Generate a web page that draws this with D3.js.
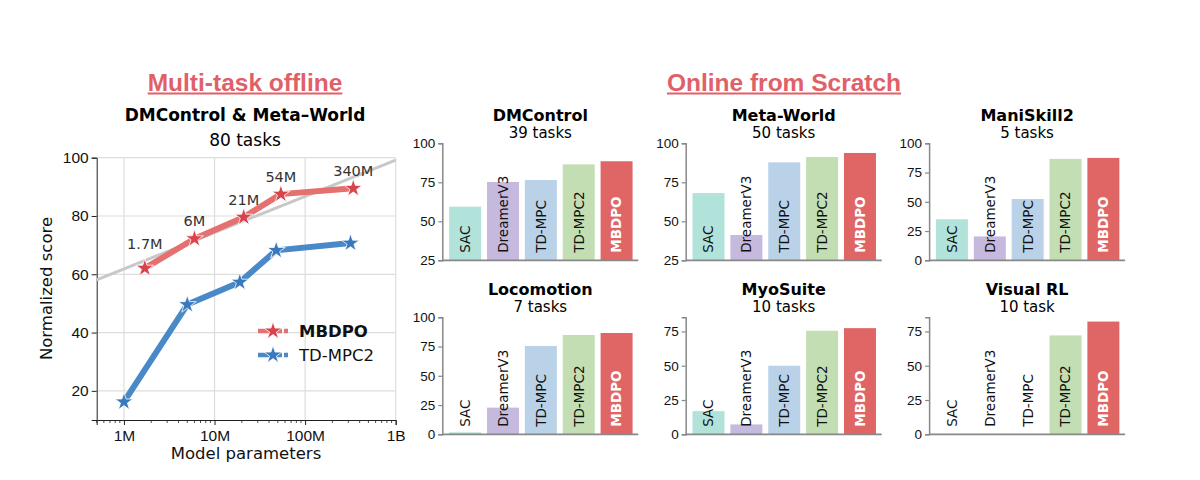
<!DOCTYPE html>
<html>
<head>
<meta charset="utf-8">
<script src="https://cdn.jsdelivr.net/npm/d3@7"></script>
<style>
  body { margin: 0; background: #fff; }
  svg { display: block; font-family: "DejaVu Sans", sans-serif; }
</style>
</head>
<body>
<div id="chart"></div>
<script>
// ---- data ----
var mbdpoParams = [1.7e6, 6e6, 21e6, 54e6, 340e6];
var mbdpoScore = [62.1, 72.2, 79.6, 87.5, 89.5];
var paramLabels = ['1.7M', '6M', '21M', '54M', '340M'];
var tdmpc2Params = [1e6, 5e6, 19e6, 48e6, 317e6];
var tdmpc2Score = [16.2, 49.6, 57.3, 68.2, 70.7];
var trendParams = [5e5, 1e9];
var trendScore = [58.1, 99.2];
var xTicks = [1e6, 1e7, 1e8, 1e9];
var xTickLabels = ['1M', '10M', '100M', '1B'];
var yTicks = [20, 40, 60, 80, 100];

var methods = ['SAC', 'DreamerV3', 'TD-MPC', 'TD-MPC2', 'MBDPO'];
var benchmarks = ['DMControl', 'Meta-World', 'ManiSkill2', 'Locomotion', 'MyoSuite', 'Visual RL'];
var taskCounts = ['39 tasks', '50 tasks', '5 tasks', '7 tasks', '10 tasks', '10 task'];
var dmcontrol = [59.4, 75.2, 76.5, 86.5, 88.5];
var metaworld = [68.1, 41.2, 87.8, 91.2, 93.8];
var maniskill2 = [35.1, 20.4, 52.4, 86.7, 87.5];
var locomotion = [1.7, 22.8, 75.5, 84.9, 86.6];
var myosuite = [16.9, 7.2, 50, 75.5, 77.4];
var visualrl = [0, 0, 0, 72.1, 82.2];
var barTicks = [[25, 50, 75, 100], [25, 50, 75, 100], [0, 25, 50, 75, 100],
                [0, 25, 50, 75, 100], [0, 25, 50, 75], [0, 25, 50, 75]];
var barDomains = [[25, 100], [25, 100], [0, 100], [0, 100], [0, 85.3], [0, 85.3]];

var allScores = [dmcontrol, metaworld, maniskill2, locomotion, myosuite, visualrl];
var barColors = ['#b2e3da', '#c6b9de', '#b9d2e8', '#c4deb3', '#e06666'];
var red = '#e06068';

var svg = d3.select('#chart').append('svg')
  .attr('width', 1200).attr('height', 480);

// ---- section headers ----
function header(cx, txt) {
  var t = svg.append('text')
    .attr('x', cx).attr('y', 91)
    .attr('text-anchor', 'middle')
    .style('font-family', '"Liberation Sans", Arial, sans-serif')
    .style('font-weight', 'bold')
    .style('font-size', '24.5px')
    .style('fill', red)
    .text(txt);
  var w = t.node().getComputedTextLength();
  svg.append('line')
    .attr('x1', cx - w / 2).attr('x2', cx + w / 2)
    .attr('y1', 93.5).attr('y2', 93.5)
    .attr('stroke', red).attr('stroke-width', 2);
}
header(245, 'Multi-task offline');
header(784, 'Online from Scratch');

// ---- left line chart ----
var x = d3.scaleLog().domain([5e5, 1e9]).range([96.7, 395.7]);
var y = d3.scaleLinear().domain([10, 100]).range([420, 157.7]);

var lc = svg.append('g');

lc.append('text').attr('x', 245).attr('y', 115).attr('dy', '0.35em')
  .attr('text-anchor', 'middle').style('font-weight', 'bold').style('font-size', '17px')
  .text('DMControl & Meta\u2013World');
lc.append('text').attr('x', 245).attr('y', 140).attr('dy', '0.35em')
  .attr('text-anchor', 'middle').style('font-size', '17px')
  .text('80 tasks');

// grid
lc.selectAll('.gx').data(xTicks).enter().append('line')
  .attr('x1', function(d) { return x(d); }).attr('x2', function(d) { return x(d); })
  .attr('y1', y(10)).attr('y2', y(100))
  .attr('stroke', '#dddddd').attr('stroke-width', 1.2);
lc.selectAll('.gy').data(yTicks).enter().append('line')
  .attr('x1', x(5e5)).attr('x2', x(1e9))
  .attr('y1', function(d) { return y(d); }).attr('y2', function(d) { return y(d); })
  .attr('stroke', '#dddddd').attr('stroke-width', 1.2);

// axes
var xAxis = d3.axisBottom(x).tickValues(xTicks)
  .tickFormat(function(d, i) { return xTickLabels[i]; }).tickSize(5);
var gx = lc.append('g').attr('transform', 'translate(0,420)').call(xAxis);
gx.selectAll('text').style('font-size', '15.5px').attr('dy', '0.85em').attr('fill', '#111');

var minor = [];
[1e5, 1e6, 1e7, 1e8].forEach(function(base) {
  for (var k = 2; k <= 9; k++) {
    var v = base * k;
    if (v >= 5e5 && v < 1e9) minor.push(v);
  }
});
lc.selectAll('.minor').data(minor).enter().append('line')
  .attr('x1', function(d) { return x(d); }).attr('x2', function(d) { return x(d); })
  .attr('y1', 420).attr('y2', 423).attr('stroke', '#222').attr('stroke-width', 0.8);

var yAxis = d3.axisLeft(y).tickValues(yTicks).tickSize(5);
var gy = lc.append('g').attr('transform', 'translate(96.7,0)').call(yAxis);
gy.selectAll('text').style('font-size', '15.5px').attr('fill', '#111');
[gx, gy].forEach(function(g) {
  g.select('.domain').attr('stroke', '#222');
  g.selectAll('.tick line').attr('stroke', '#222');
});

lc.append('text')
  .attr('transform', 'translate(46,288.5) rotate(-90)')
  .attr('text-anchor', 'middle').attr('dy', '0.35em')
  .style('font-size', '16.5px').attr('fill', '#111')
  .text('Normalized score');
lc.append('text')
  .attr('x', 246).attr('y', 453).attr('dy', '0.35em')
  .attr('text-anchor', 'middle').style('font-size', '16.5px').attr('fill', '#111')
  .text('Model parameters');

// trend line
var line = d3.line().x(function(d) { return x(d[0]); }).y(function(d) { return y(d[1]); });
lc.append('path').datum(d3.zip(trendParams, trendScore))
  .attr('d', line).attr('fill', 'none').attr('stroke', '#c8c8c8').attr('stroke-width', 3);

var star = d3.symbol().type(d3.symbolStar).size(100);

function series(params, scores, lineColor, markColor) {
  var pts = d3.zip(params, scores);
  lc.append('path').datum(pts).attr('d', line)
    .attr('fill', 'none').attr('stroke', lineColor).attr('stroke-width', 6)
    .attr('stroke-linejoin', 'round').attr('stroke-linecap', 'round');
  lc.selectAll(null).data(pts).enter().append('path')
    .attr('d', star)
    .attr('transform', function(d) { return 'translate(' + x(d[0]) + ',' + y(d[1]) + ')'; })
    .attr('fill', markColor).attr('stroke', '#fff').attr('stroke-width', 0.8);
}
series(tdmpc2Params, tdmpc2Score, '#4a89c8', '#3a78bd');
series(mbdpoParams, mbdpoScore, '#e57070', '#d9434b');

lc.selectAll('.plabel').data(paramLabels).enter().append('text')
  .attr('x', function(d, i) { return x(mbdpoParams[i]); })
  .attr('y', function(d, i) { return y(mbdpoScore[i]) - (i === 0 ? 24 : 17.5); })
  .attr('dy', '0.35em').attr('text-anchor', 'middle')
  .style('font-size', '14.5px').attr('fill', '#333')
  .text(function(d) { return d; });

// legend
var legend = [
  { name: 'MBDPO', line: '#e57070', mark: '#d9434b', bold: true },
  { name: 'TD-MPC2', line: '#4a89c8', mark: '#3a78bd', bold: false }
];
legend.forEach(function(l, i) {
  var ly = 331 + i * 24;
  lc.append('line').attr('x1', 258).attr('x2', 288).attr('y1', ly).attr('y2', ly)
    .attr('stroke', l.line).attr('stroke-width', 4.5).attr('stroke-dasharray', '11,2');
  lc.append('path').attr('d', star).attr('transform', 'translate(273,' + ly + ')')
    .attr('fill', l.mark).attr('stroke', '#fff').attr('stroke-width', 0.8);
  lc.append('text').attr('x', 299).attr('y', ly).attr('dy', '0.35em')
    .style('font-size', '16.5px').style('font-weight', l.bold ? 'bold' : 'normal')
    .attr('fill', '#111').text(l.name);
});

// ---- bar panels ----
benchmarks.forEach(function(name, p) {
  var col = p % 3, row = Math.floor(p / 3);
  var left = 442.3 + col * 243.4;
  var top = 143.3 + row * 174;
  var bottom = top + 117;
  var g = svg.append('g');

  var bx = d3.scaleBand().domain(methods)
    .range([left + 3.8, left + 193.3]).paddingInner(0.155).paddingOuter(0.08);
  var by = d3.scaleLinear().domain(barDomains[p]).range([bottom, top]);

  g.append('text').attr('x', left + 98).attr('y', top - 28.3).attr('dy', '0.35em')
    .attr('text-anchor', 'middle').style('font-weight', 'bold').style('font-size', '16px')
    .text(name);
  g.append('text').attr('x', left + 98).attr('y', top - 10.6).attr('dy', '0.35em')
    .attr('text-anchor', 'middle').style('font-size', '15px')
    .text(taskCounts[p]);

  var scores = allScores[p];
  var d0 = by.domain()[0];
  g.selectAll('rect').data(methods).enter().append('rect')
    .attr('x', function(d) { return bx(d); })
    .attr('width', bx.bandwidth())
    .attr('y', function(d, i) { return by(Math.max(scores[i], d0)); })
    .attr('height', function(d, i) { return bottom - by(Math.max(scores[i], d0)); })
    .attr('fill', function(d, i) { return barColors[i]; });

  g.selectAll('.blabel').data(methods).enter().append('text')
    .attr('transform', function(d) {
      return 'translate(' + (bx(d) + bx.bandwidth() / 2) + ',' + (bottom - 7.5) + ') rotate(-90)';
    })
    .attr('dy', '0.36em')
    .style('font-size', '13.5px')
    .style('font-weight', function(d) { return d === 'MBDPO' ? 'bold' : 'normal'; })
    .attr('fill', function(d) { return d === 'MBDPO' ? '#fff' : '#111'; })
    .text(function(d) { return d; });

  var ya = g.append('g').attr('transform', 'translate(' + left + ',0)')
    .call(d3.axisLeft(by).tickValues(barTicks[p]).tickSize(4).tickPadding(3));
  ya.selectAll('text').style('font-size', '13.5px').attr('fill', '#111');
  ya.select('.domain').attr('stroke', '#888').attr('stroke-width', 1.5);
  ya.selectAll('.tick line').attr('stroke', '#888').attr('stroke-width', 1.2);

  g.append('line').attr('x1', left).attr('x2', left + 196)
    .attr('y1', bottom).attr('y2', bottom)
    .attr('stroke', '#888').attr('stroke-width', 1.8);
});
</script>
</body>
</html>
